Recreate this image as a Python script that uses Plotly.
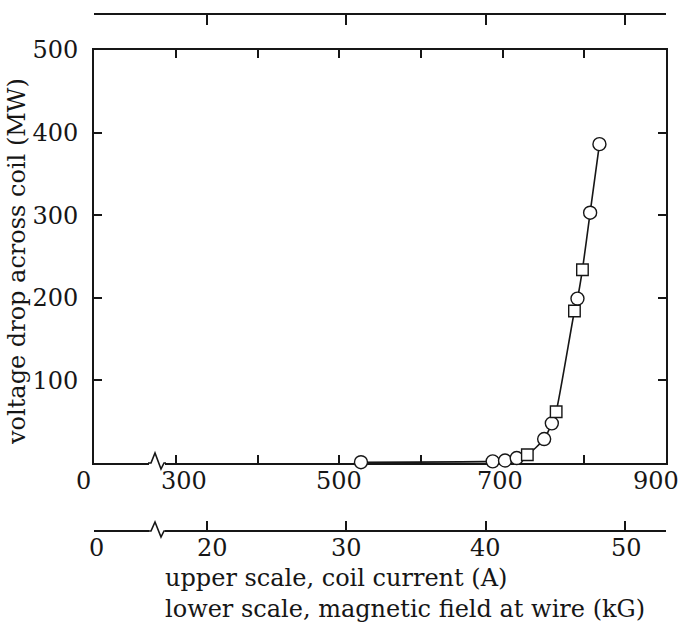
import plotly.graph_objects as go

# ---- data ----
circle_current = [526.5, 687.8, 702.9, 717.2, 750.8, 760.2, 791.6, 807.1, 818.5]
circle_voltage = [1, 2, 3, 6, 29, 48, 199, 303, 386]
square_current = [730.2, 765.5, 787.9, 797.7]
square_voltage = [10, 62, 184, 234]

current_tick_vals = [300, 400, 500, 600, 700, 800]
current_label_vals = [300, 500, 700, 900]
current_label_text = ["300", "500", "700", "900"]
field_tick_vals = [20, 30, 40, 50]
field_tick_text = ["20", "30", "40", "50"]
voltage_tick_vals = [100, 200, 300, 400, 500]
voltage_tick_text = ["100", "200", "300", "400", "500"]

# broken-axis origins (where the "0" sits on each scale)
CURRENT_ZERO = 199.6
FIELD_ZERO = 11.89
CURRENT_MAX = 900
FIELD_MAX = 52.95

FONT = "DejaVu Serif"
INK = "#161616"
NUM_SIZE = 24
TXT_SIZE = 24

# combined curve through all points
pts = sorted(zip(circle_current + square_current, circle_voltage + square_voltage))
curve_x = [p[0] for p in pts]
curve_y = [p[1] for p in pts]

W, H = 682, 625
ML, MR, MT, MB = 94, 16, 14, 94
PW, PH = W - ML - MR, H - MT - MB


def px(xp):
    return (xp - ML) / PW


def py(yp):
    return (H - MB - yp) / PH


fig = go.Figure()
fig.add_trace(go.Scatter(x=curve_x, y=curve_y, mode="lines",
                         line=dict(color=INK, width=1.6, shape="spline", smoothing=0.6),
                         hoverinfo="skip", showlegend=False, cliponaxis=False))
fig.add_trace(go.Scatter(x=circle_current, y=circle_voltage, mode="markers",
                         marker=dict(symbol="circle", size=13, color="white",
                                     line=dict(color=INK, width=1.4)),
                         showlegend=False, cliponaxis=False))
fig.add_trace(go.Scatter(x=square_current, y=square_voltage, mode="markers",
                         marker=dict(symbol="square", size=11.5, color="white",
                                     line=dict(color=INK, width=1.4)),
                         showlegend=False, cliponaxis=False))
# empty traces so the field-scale axes are registered and drawn
fig.add_trace(go.Scatter(x=[], y=[], xaxis="x2", yaxis="y", showlegend=False, hoverinfo="skip"))
fig.add_trace(go.Scatter(x=[], y=[], xaxis="x3", yaxis="y", showlegend=False, hoverinfo="skip"))

axis_common = dict(showgrid=False, zeroline=False, showline=True, linecolor=INK,
                   linewidth=2, ticks="inside", tickcolor=INK, tickwidth=1.5,
                   automargin=False)

fig.update_layout(
    width=W, height=H,
    margin=dict(l=ML, r=MR, t=MT, b=MB, autoexpand=False),
    paper_bgcolor="white", plot_bgcolor="white",
    font=dict(family=FONT, color=INK),
    xaxis=dict(range=[CURRENT_ZERO, CURRENT_MAX], anchor="y", mirror="ticks",
               tickvals=current_tick_vals, ticklen=8, showticklabels=False,
               layer="below traces", **axis_common),
    yaxis=dict(range=[0, 500], domain=[0.1315, 0.9304], anchor="x", mirror="ticks",
               tickvals=voltage_tick_vals, ticktext=voltage_tick_text, ticklen=8,
               tickfont=dict(size=NUM_SIZE, family=FONT, color=INK), ticklabelstandoff=9,
               layer="below traces", **axis_common),
    xaxis2=dict(range=[FIELD_ZERO, FIELD_MAX], overlaying="x", anchor="free", position=0,
                side="bottom", tickvals=[FIELD_ZERO] + field_tick_vals, ticklen=9,
                showticklabels=False, **axis_common),
    xaxis3=dict(range=[FIELD_ZERO, FIELD_MAX], overlaying="x", anchor="free", position=1,
                side="top", tickvals=[FIELD_ZERO] + field_tick_vals, ticklen=10,
                showticklabels=False, **axis_common),
)

ann = []
# current scale labels
shifts = {300: 8, 500: 0, 700: -3, 900: -10}
ann.append(dict(x=CURRENT_ZERO, y=py(481), xref="x", yref="paper", text="0",
                showarrow=False, xanchor="center", yanchor="middle", xshift=-11,
                font=dict(size=NUM_SIZE, family=FONT, color=INK)))
for v, t in zip(current_label_vals, current_label_text):
    ann.append(dict(x=v, y=py(481), xref="x", yref="paper", text=t, showarrow=False,
                    xanchor="center", yanchor="middle", xshift=shifts[v],
                    font=dict(size=NUM_SIZE, family=FONT, color=INK)))
# field scale labels
ann.append(dict(x=FIELD_ZERO, y=py(548), xref="x2", yref="paper", text="0",
                showarrow=False, xanchor="center", yanchor="middle", xshift=2,
                font=dict(size=NUM_SIZE, family=FONT, color=INK)))
fshift = {20: 6, 30: 0, 40: 0, 50: 2}
for v, t in zip(field_tick_vals, field_tick_text):
    ann.append(dict(x=v, y=py(548), xref="x2", yref="paper", text=t, showarrow=False,
                    xanchor="center", yanchor="middle", xshift=fshift[v],
                    font=dict(size=NUM_SIZE, family=FONT, color=INK)))
# titles
ann.append(dict(x=px(163), y=py(578), xref="paper", yref="paper",
                text="upper scale, coil current (A)", showarrow=False,
                xanchor="left", yanchor="middle", font=dict(size=TXT_SIZE, family=FONT, color=INK)))
ann.append(dict(x=px(163), y=py(609), xref="paper", yref="paper",
                text="lower scale, magnetic field at wire (kG)", showarrow=False,
                xanchor="left", yanchor="middle", font=dict(size=TXT_SIZE, family=FONT, color=INK)))
ann.append(dict(x=px(17), y=py(262), xref="paper", yref="paper",
                text="voltage drop across coil (MW)", showarrow=False, textangle=-90,
                xanchor="center", yanchor="middle", font=dict(size=24, family=FONT, color=INK)))
fig.update_layout(annotations=ann)

# axis break marks
shapes = []
for (yl, up, down) in [(463, 453, 469), (531, 522, 537)]:
    shapes.append(dict(type="rect", xref="paper", yref="paper",
                       x0=px(149), x1=px(165), y0=py(yl + 3), y1=py(yl - 3),
                       fillcolor="white", line=dict(width=0), layer="above"))
    path = (f"M {px(148)} {py(yl)} L {px(151)} {py(yl)} L {px(155)} {py(up)} "
            f"L {px(161)} {py(down)} L {px(164)} {py(yl)} L {px(166)} {py(yl)}")
    shapes.append(dict(type="path", xref="paper", yref="paper", path=path,
                       line=dict(color=INK, width=1.6), layer="above"))
fig.update_layout(shapes=shapes)

fig.write_html("out.html", config={"displayModeBar": False},
               post_script="document.body.style.margin='0px';document.body.style.padding='0px';")
